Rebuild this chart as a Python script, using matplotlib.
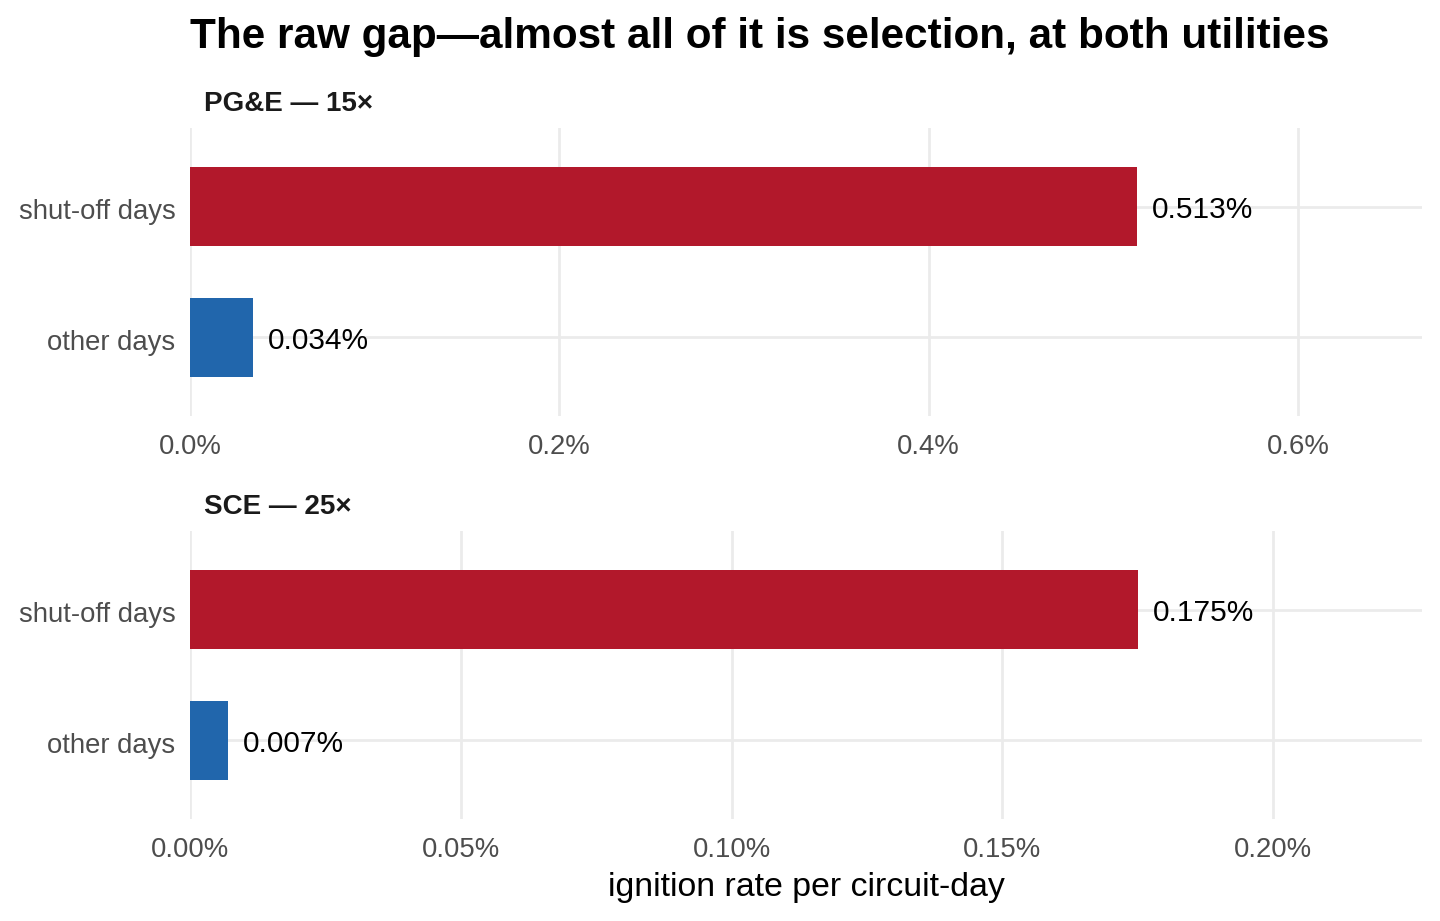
import matplotlib
matplotlib.use("Agg")
import matplotlib.pyplot as plt
from matplotlib.transforms import ScaledTranslation

plt.rcParams['font.family'] = ['Liberation Sans', 'DejaVu Sans']

categories = ["other days", "shut-off days"]
pge_values = [0.034, 0.513]
sce_values = [0.007, 0.175]
pge_ticks = [0.0, 0.2, 0.4, 0.6]
pge_ticklabels = ["0.0%", "0.2%", "0.4%", "0.6%"]
sce_ticks = [0.0, 0.05, 0.10, 0.15, 0.20]
sce_ticklabels = ["0.00%", "0.05%", "0.10%", "0.15%", "0.20%"]
pge_labels = ["0.034%", "0.513%"]
sce_labels = ["0.007%", "0.175%"]
panel_titles = ["PG\u0026E \u2014 15\u00d7", "SCE \u2014 25\u00d7"]
bar_colors = ["#2166AC", "#B2182B"]

W, H = 1440, 921
fig = plt.figure(figsize=(W / 100, H / 100), dpi=100)

def px_axes(x0, y0, x1, y1):
    return fig.add_axes([x0 / W, 1 - y1 / H, (x1 - x0) / W, (y1 - y0) / H])

grid_col = "#EBEBEB"

def draw_panel(ax, values, ticks, ticklabels, labels, xmax):
    y = list(range(len(categories)))
    for t in ticks:
        ax.axvline(t, color=grid_col, lw=2.0, zorder=0)
    for yy in y:
        ax.axhline(yy, color=grid_col, lw=2.0, zorder=0)
    ax.barh(y, values, height=0.6, color=bar_colors, zorder=2)
    for yy, v, lab in zip(y, values, labels):
        ax.annotate(lab, xy=(v, yy), xytext=(10.8, -2.3), textcoords="offset points",
                    ha="left", va="center", fontsize=21.5, color="black", zorder=3)
    ax.set_xlim(0, xmax)
    ax.set_ylim(-0.6, 1.6)
    ax.set_xticks(ticks)
    ax.set_xticklabels(ticklabels)
    ax.set_yticks(y)
    ax.set_yticklabels(categories)
    ax.tick_params(axis="both", length=0, labelsize=19.8, colors="#4D4D4D")
    ax.tick_params(axis="x", pad=13)
    ax.tick_params(axis="y", pad=10.5)
    off = ScaledTranslation(0, -1.5 / 72, fig.dpi_scale_trans)
    for lab in ax.get_yticklabels():
        lab.set_transform(lab.get_transform() + off)
    for s in ax.spines.values():
        s.set_visible(False)
    ax.set_facecolor("white")

ax1 = px_axes(190, 128, 1422, 416)
draw_panel(ax1, pge_values, pge_ticks, pge_ticklabels, pge_labels, 0.6 * 1232 / 1108)
ax2 = px_axes(190, 531, 1422, 819)
draw_panel(ax2, sce_values, sce_ticks, sce_ticklabels, sce_labels, 0.2 * 1232 / 1083)

fig.text(204 / W, 1 - 104 / H, panel_titles[0], ha="left", va="center",
         fontsize=20, fontweight="bold", color="#1A1A1A")
fig.text(204 / W, 1 - 507 / H, panel_titles[1], ha="left", va="center",
         fontsize=20, fontweight="bold", color="#1A1A1A")

fig.text(760 / W, 1 - 37 / H, "The raw gap\u2014almost all of it is selection, at both utilities",
         ha="center", va="center", fontsize=30.4, fontweight="bold", color="black")
fig.text(806 / W, 1 - 887 / H, "ignition rate per circuit-day", ha="center", va="center",
         fontsize=24.4, color="black")

fig.savefig("out.png", dpi=100, facecolor="white")
